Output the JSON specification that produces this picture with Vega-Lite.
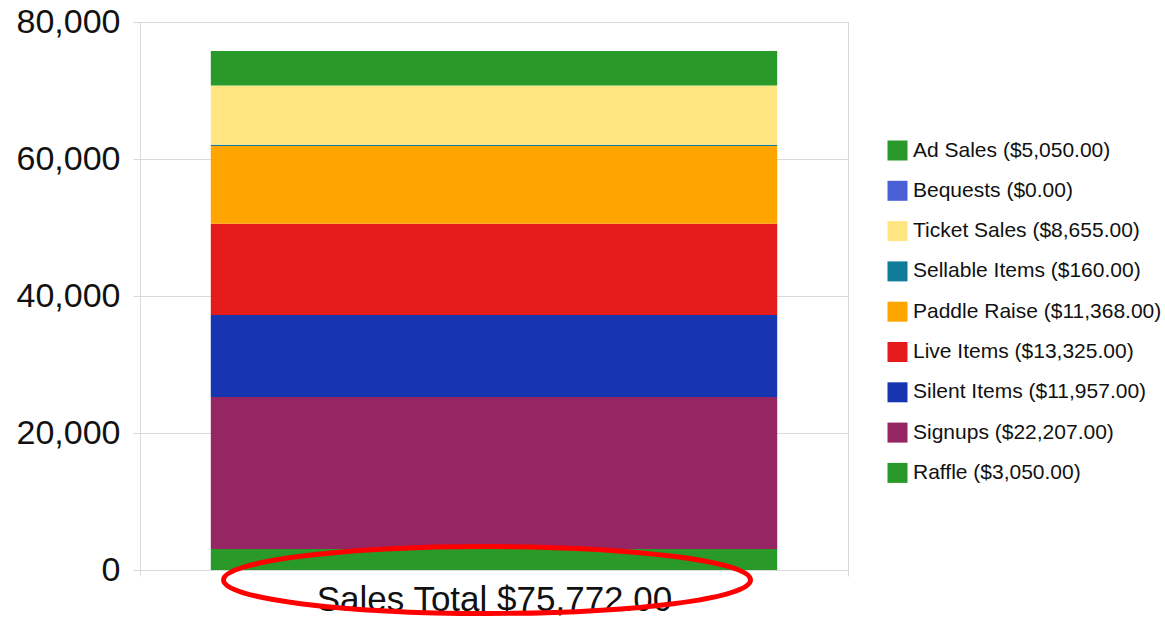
{
  "$schema": "https://vega.github.io/schema/vega-lite/v6.json",
  "width": 708,
  "height": 548,
  "autosize": {"type": "none"},
  "padding": {"left": 140, "top": 22, "right": 317, "bottom": 48},
  "background": "white",
  "config": {
    "view": {"stroke": "#d9d9d9", "strokeWidth": 1},
    "font": "Liberation Sans"
  },
  "data": {
    "values": [
      {"category": "Sales Total $75,772.00", "item": "Raffle ($3,050.00)", "amount": 3050, "rank": 1},
      {"category": "Sales Total $75,772.00", "item": "Signups ($22,207.00)", "amount": 22207, "rank": 2},
      {"category": "Sales Total $75,772.00", "item": "Silent Items ($11,957.00)", "amount": 11957, "rank": 3},
      {"category": "Sales Total $75,772.00", "item": "Live Items ($13,325.00)", "amount": 13325, "rank": 4},
      {"category": "Sales Total $75,772.00", "item": "Paddle Raise ($11,368.00)", "amount": 11368, "rank": 5},
      {"category": "Sales Total $75,772.00", "item": "Sellable Items ($160.00)", "amount": 160, "rank": 6},
      {"category": "Sales Total $75,772.00", "item": "Ticket Sales ($8,655.00)", "amount": 8655, "rank": 7},
      {"category": "Sales Total $75,772.00", "item": "Bequests ($0.00)", "amount": 0, "rank": 8},
      {"category": "Sales Total $75,772.00", "item": "Ad Sales ($5,050.00)", "amount": 5050, "rank": 9}
    ]
  },
  "layer": [
    {
      "mark": {"type": "bar", "width": {"band": 0.8}},
      "encoding": {
        "x": {
          "field": "category",
          "type": "nominal",
          "scale": {"paddingInner": 0, "paddingOuter": 0},
          "axis": {
            "title": null,
            "labelAngle": 0,
            "labelFontSize": 35,
            "labelLimit": 1000,
            "labelColor": "#111111",
            "tickBand": "extent",
            "ticks": true,
            "tickSize": 6,
            "tickColor": "#d9d9d9",
            "grid": true,
            "gridColor": "#d9d9d9",
            "domain": false,
            "labelPadding": 6
          }
        },
        "y": {
          "field": "amount",
          "type": "quantitative",
          "stack": "zero",
          "scale": {"domain": [0, 80000], "nice": false},
          "axis": {
            "title": null,
            "values": [0, 20000, 40000, 60000, 80000],
            "format": ",d",
            "labelFontSize": 34,
            "labelColor": "#111111",
            "tickSize": 7,
            "tickColor": "#d9d9d9",
            "gridColor": "#d9d9d9",
            "domain": false,
            "labelPadding": 13
          }
        },
        "color": {
          "field": "item",
          "type": "nominal",
          "sort": null,
          "scale": {
            "domain": [
              "Ad Sales ($5,050.00)",
              "Bequests ($0.00)",
              "Ticket Sales ($8,655.00)",
              "Sellable Items ($160.00)",
              "Paddle Raise ($11,368.00)",
              "Live Items ($13,325.00)",
              "Silent Items ($11,957.00)",
              "Signups ($22,207.00)",
              "Raffle ($3,050.00)"
            ],
            "range": ["#299a29", "#4a5ed6", "#ffe680", "#117c9a", "#ffa500", "#e41b1a", "#1734b1", "#962564", "#299a29"]
          },
          "legend": {
            "title": null,
            "orient": "none",
            "legendX": 747,
            "legendY": 118,
            "padding": 0,
            "symbolType": "square",
            "symbolSize": 400,
            "symbolStrokeWidth": 0,
            "symbolOpacity": 1,
            "labelFontSize": 21,
            "labelColor": "#111111",
            "labelOffset": 5,
            "rowPadding": 18.3,
            "labelLimit": 400
          }
        },
        "order": {"field": "rank", "type": "quantitative"}
      }
    },
    {
      "transform": [{"filter": "datum.rank == 1"}],
      "mark": {
        "type": "point",
        "shape": "M -1 0 A 1 0.127 0 1 0 1 0 A 1 0.127 0 1 0 -1 0 Z",
        "size": 277729,
        "filled": false,
        "stroke": "#ff0000",
        "strokeWidth": 5,
        "opacity": 1,
        "clip": false,
        "xOffset": -7,
        "yOffset": 10
      },
      "encoding": {
        "x": {"field": "category", "type": "nominal"},
        "y": {"datum": 0, "type": "quantitative"}
      }
    }
  ]
}
